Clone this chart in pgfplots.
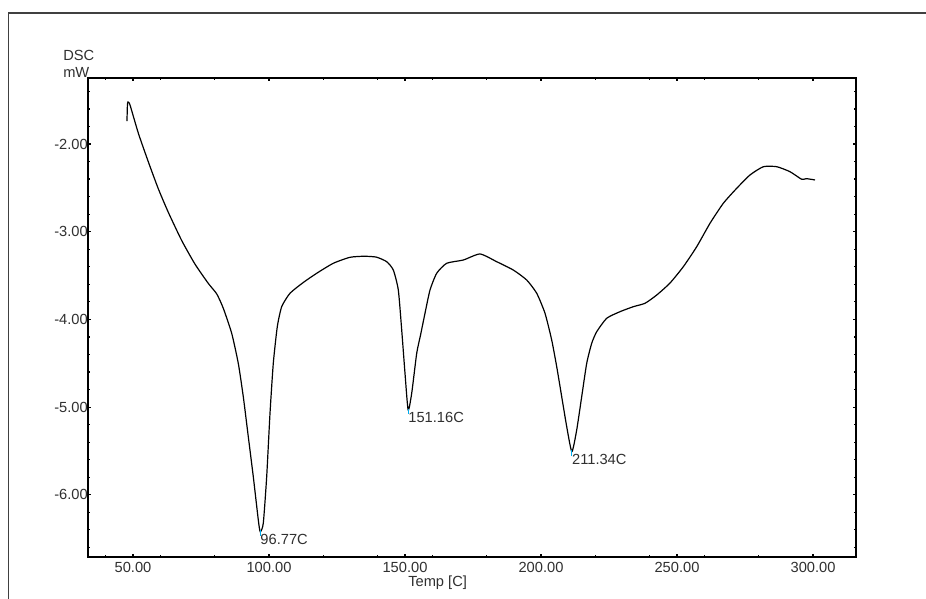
\documentclass[border=0pt]{standalone}
\usepackage{fontspec}
\setmainfont{Liberation Sans}
\usepackage{pgfplots}
\pgfplotsset{compat=1.18}
\definecolor{txt}{HTML}{303030}
\definecolor{frame}{HTML}{404040}
\begin{document}
\begin{tikzpicture}
\useasboundingbox (-66pt,-31.5pt) rectangle (628.5pt,417.75pt);
\fill[white] (-66pt,-31.5pt) rectangle (628.5pt,417.75pt);
\draw[frame, line width=1.1pt] (-59.6pt,-40pt) |- (640pt,408pt);
\begin{axis}[
  at={(0,0)}, anchor=south west,
  scale only axis, width=576pt, height=359.25pt,
  xmin=33.46, xmax=315.8, ymin=-6.709, ymax=-1.2474,
  axis line style={line width=1.1pt, black},
  tick align=inside,
  major tick length=2.6pt, minor tick length=1.6pt,
  every tick/.style={black, line width=0.9pt},
  xtick={50,100,150,200,250,300},
  xticklabels={50.00,100.00,150.00,200.00,250.00,300.00},
  minor xtick={40,60,80,120,140,160,180,220,240,260,280},
  ytick={-6,-5,-4,-3,-2},
  yticklabels={-6.00,-5.00,-4.00,-3.00,-2.00},
  minor ytick={-6.6,-6.4,-6.2,-5.8,-5.6,-5.4,-5.2,-4.8,-4.6,-4.4,-4.2,-3.8,-3.6,-3.4,-3.2,-2.8,-2.6,-2.4,-2.2,-1.8,-1.6,-1.4},
  ticklabel style={font=\fontsize{11}{13}\selectfont, text=txt, inner sep=0pt},
  xticklabel style={anchor=north, yshift=-3.6pt},
  yticklabel style={anchor=east, xshift=0pt},
  clip=false,
]
\addplot[black, line width=0.9pt, smooth, tension=0.35] coordinates {
(47.79,-1.738) (47.95,-1.56) (48.16,-1.521) (48.90,-1.555) (52.00,-1.880) (55.60,-2.200)
(59.30,-2.510) (63.00,-2.780) (67.90,-3.100) (72.80,-3.370) (77.70,-3.590)
(80.80,-3.710) (83.20,-3.873) (86.29,-4.159) (88.71,-4.501) (90.55,-4.881)
(92.39,-5.338) (94.23,-5.794) (96.07,-6.287) (96.77,-6.421) (97.90,-6.325)
(99.15,-5.794) (100.37,-5.071) (101.58,-4.501) (103.05,-4.083) (104.67,-3.855)
(107.72,-3.702) (112.61,-3.579) (117.54,-3.474) (123.64,-3.360) (129.78,-3.292)
(135.0,-3.280) (139.5,-3.290) (143.27,-3.342) (145.70,-3.437) (147.54,-3.665) (148.79,-4.121)
(150.00,-4.615) (151.16,-5.033) (152.46,-4.843) (154.30,-4.387) (155.70,-4.180)
(157.35,-3.930) (159.19,-3.665) (161.65,-3.474) (165.33,-3.360) (171.43,-3.323)
(177.57,-3.254) (183.71,-3.342) (189.82,-3.437) (194.74,-3.551) (198.42,-3.702)
(201.47,-3.930) (203.93,-4.235) (205.77,-4.539) (207.61,-4.881) (209.45,-5.223)
(211.34,-5.508) (213.12,-5.261) (214.96,-4.881) (216.80,-4.501) (218.64,-4.272)
(220.48,-4.140) (224.15,-3.987) (229.04,-3.912) (233.93,-3.855) (238.24,-3.816)
(242.54,-3.722) (247.43,-3.585) (252.32,-3.399) (257.24,-3.171) (262.13,-2.904)
(267.02,-2.676) (271.95,-2.505) (276.84,-2.353) (281.73,-2.259) (286.65,-2.259)
(291.54,-2.316) (295.85,-2.403) (297.5,-2.395) (300.74,-2.410)
};
\addplot[only marks, mark=|, mark size=2pt, cyan, mark options={line width=0.8pt, yshift=-1pt}] coordinates {
(96.77,-6.421) (151.16,-5.033) (211.34,-5.508)
};
\node[anchor=north west, inner sep=0pt, text=txt, font=\fontsize{11}{13}\selectfont, yshift=-1.8pt] at (axis cs:96.77,-6.421) {96.77C};
\node[anchor=north west, inner sep=0pt, text=txt, font=\fontsize{11}{13}\selectfont, yshift=-1.8pt] at (axis cs:151.16,-5.033) {151.16C};
\node[anchor=north west, inner sep=0pt, text=txt, font=\fontsize{11}{13}\selectfont, yshift=-1.8pt] at (axis cs:211.34,-5.508) {211.34C};
\end{axis}
\node[anchor=west, inner sep=0pt, text=txt, font=\fontsize{11}{13}\selectfont] at (-18.75pt,376.5pt) {DSC};
\node[anchor=west, inner sep=0pt, text=txt, font=\fontsize{11}{13}\selectfont] at (-18.75pt,363.75pt) {mW};
\node[anchor=west, inner sep=0pt, text=txt, font=\fontsize{11}{13}\selectfont] at (240pt,-19.5pt) {Temp [C]};
\end{tikzpicture}
\end{document}
